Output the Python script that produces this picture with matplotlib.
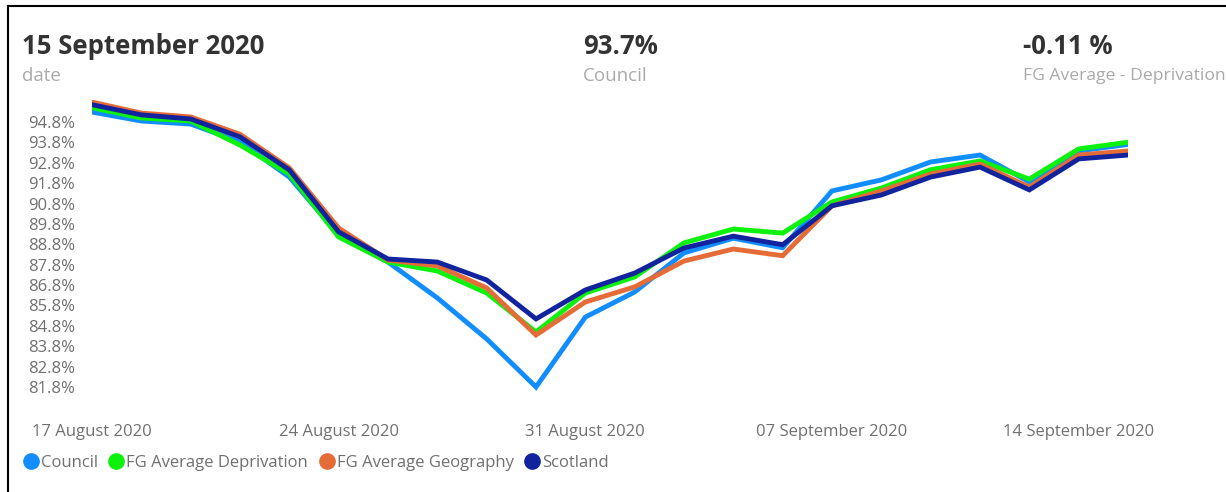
import matplotlib.pyplot as plt
from matplotlib.lines import Line2D
import pandas as pd

# weekdays only (categorical axis)
dates = pd.bdate_range("2020-08-17", "2020-09-15")

council = [95.29, 94.85, 94.70, 93.82, 92.10, 89.26, 87.93, 86.17, 84.16, 81.80, 85.23,
           86.46, 88.38, 89.10, 88.63, 91.42, 91.96, 92.84, 93.18, 91.86, 93.38, 93.70]
fg_dep = [95.50, 95.00, 94.85, 93.67, 92.25, 89.16, 87.93, 87.49, 86.41, 84.50, 86.41,
          87.20, 88.87, 89.55, 89.35, 90.88, 91.56, 92.46, 92.89, 92.00, 93.48, 93.81]
fg_geo = [95.78, 95.24, 95.05, 94.20, 92.55, 89.60, 88.03, 87.74, 86.66, 84.35, 85.97,
          86.71, 87.98, 88.57, 88.24, 90.69, 91.42, 92.25, 92.74, 91.61, 93.18, 93.38]
scotland = [95.65, 95.15, 94.95, 94.07, 92.45, 89.41, 88.08, 87.93, 87.05, 85.14, 86.56,
            87.39, 88.62, 89.20, 88.78, 90.69, 91.22, 92.10, 92.59, 91.47, 92.99, 93.18]

series = [("Council", council, "#118DFF"),
          ("FG Average Deprivation", fg_dep, "#0CF20C"),
          ("FG Average Geography", fg_geo, "#E66C37"),
          ("Scotland", scotland, "#12239E")]

yticks = [81.8 + i for i in range(14)]

plt.rcParams['font.family'] = ['Open Sans', 'DejaVu Sans']

W, H = 1226, 492
fig = plt.figure(figsize=(W / 100, H / 100), dpi=100)
ax = fig.add_axes([92 / W, 1 - 397.2 / H, (1128 - 92) / W, (397.2 - 99.6) / H])

x = list(range(len(dates)))
for name, vals, col in series:
    ax.plot(x, vals, color=col, lw=3.5, solid_joinstyle='miter', label=name)

ax.set_xlim(0, len(dates) - 1)
ax.set_ylim(81.3, 95.9)
ax.set_yticks(yticks)
ax.set_yticklabels([f"{v:.1f}%" for v in yticks], color="#707070", fontsize=12)
mondays = [i for i, d in enumerate(dates) if d.weekday() == 0]
ax.set_xticks(mondays)
ax.set_xticklabels([dates[i].strftime("%d %B %Y") for i in mondays], color="#707070", fontsize=12)
ax.tick_params(axis='x', length=0, pad=19)
ax.tick_params(axis='y', length=0, pad=12)
for s in ax.spines.values():
    s.set_visible(False)

# header cards
def card(xp, big, small, small_size=13.5):
    fig.text(xp / W, 1 - 46 / H, big, fontsize=18.5, fontweight='bold', color="#333333", va='center')
    fig.text(xp / W, 1 - 76 / H, small, fontsize=small_size, color="#AAAAAA", va='center')

card(22, dates[-1].strftime("%d %B %Y"), "date")
card(583, f"{council[-1]:.1f}%", "Council")
card(1023, f"{council[-1] - fg_dep[-1]:.2f} %", "FG Average - Deprivation", 12.6)

handles = [Line2D([], [], ls='none', marker='o', ms=11, color=c, label=n) for n, _, c in series]
fig.legend(handles=handles, loc='center left', bbox_to_anchor=(6 / W, 1 - 463 / H),
           ncol=4, frameon=False, handletextpad=0.0, columnspacing=0.5,
           handlelength=1.2, prop={'size': 12}, labelcolor="#707070")

# screenshot frame (top + left)
fig.add_artist(Line2D([8 / W, 8 / W], [0, 1 - 6 / H], color='black', lw=1.5))
fig.add_artist(Line2D([8 / W, 1], [1 - 6 / H, 1 - 6 / H], color='black', lw=1.5))

fig.savefig("out.png", dpi=100)
